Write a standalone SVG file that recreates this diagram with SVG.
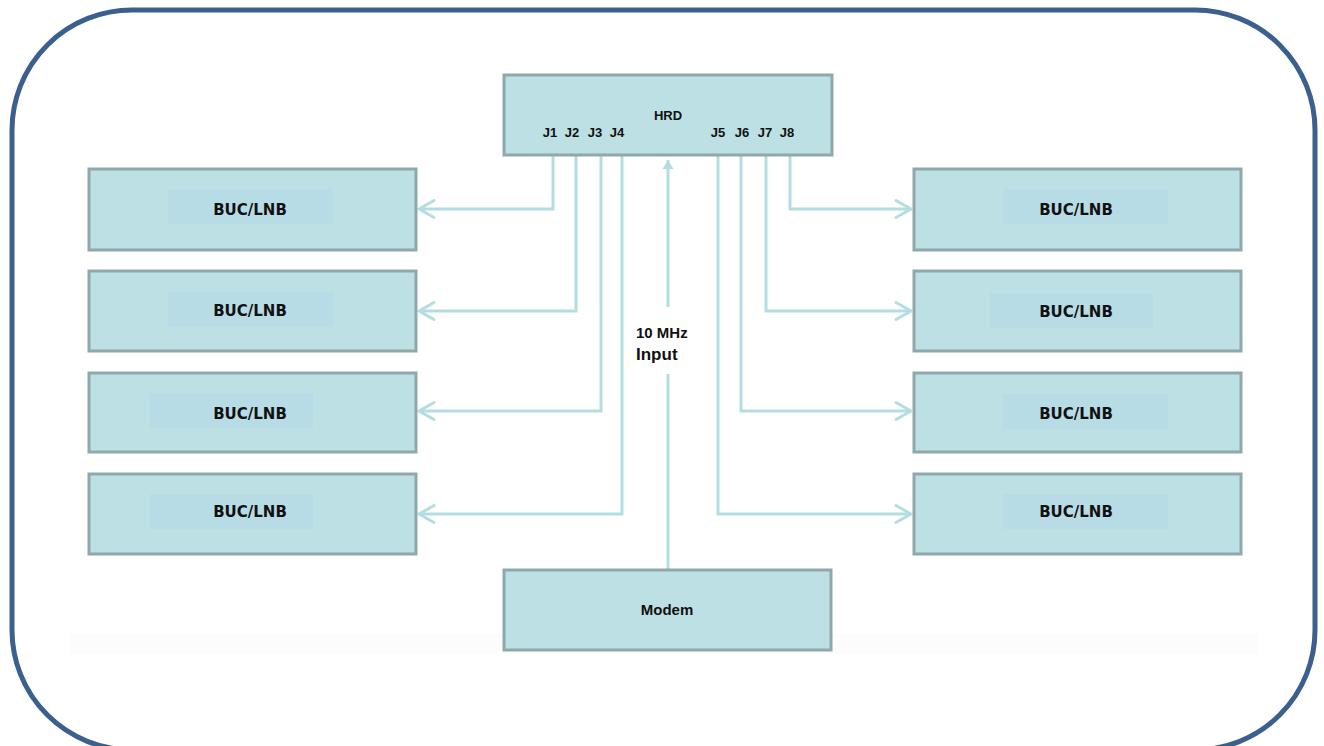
<svg xmlns="http://www.w3.org/2000/svg" width="1324" height="746" viewBox="0 0 1324 746">
<style>
.box{fill:#bce0e3;stroke:#8fa8a9;stroke-width:3}
.inner{fill:#b8dce6}
.lbl{font-family:"DejaVu Sans",Verdana,sans-serif;font-weight:bold;font-size:15px;fill:#111;text-anchor:middle}
.sm{font-family:"Liberation Sans",Arial,sans-serif;font-weight:bold;fill:#111}
.conn{fill:none;stroke:#b3dde0;stroke-width:3}
</style>
<defs>
<marker id="arr" markerUnits="userSpaceOnUse" markerWidth="24" markerHeight="24" viewBox="-20 -12 24 24" refX="0" refY="0" orient="auto" overflow="visible">
<path d="M-15,-8.5 L0,0 L-15,8.5" fill="none" stroke="#b3dde0" stroke-width="3" stroke-linecap="round" stroke-linejoin="round"/>
</marker>
<marker id="arrf" markerUnits="userSpaceOnUse" markerWidth="16" markerHeight="16" viewBox="-12 -8 16 16" refX="0" refY="0" orient="auto" overflow="visible">
<path d="M-9,-5.5 L0,0 L-9,5.5 Z" fill="#b3dde0"/>
</marker>
</defs>
<rect x="0" y="0" width="1324" height="746" fill="#fff"/>
<rect x="70" y="634" width="1188" height="20" fill="#fcfcfc"/>
<rect x="12" y="10" width="1303" height="740" rx="120" ry="120" fill="none" stroke="#3b5f8e" stroke-width="5"/>

<g id="connectors">
<path class="conn" d="M553,156 V209 H419" marker-end="url(#arr)"/>
<path class="conn" d="M576,156 V311 H419" marker-end="url(#arr)"/>
<path class="conn" d="M601,156 V411 H419" marker-end="url(#arr)"/>
<path class="conn" d="M622,156 V514 H419" marker-end="url(#arr)"/>
<path class="conn" d="M718,156 V514 H911" marker-end="url(#arr)"/>
<path class="conn" d="M741,156 V411 H911" marker-end="url(#arr)"/>
<path class="conn" d="M766,156 V311 H911" marker-end="url(#arr)"/>
<path class="conn" d="M790,156 V209 H911" marker-end="url(#arr)"/>
<path class="conn" d="M668,569 V374"/>
<path class="conn" d="M668,307 V160" marker-end="url(#arrf)"/>
</g>
<text class="sm" x="636" y="338" font-size="15">10 MHz</text>
<text class="sm" x="636" y="360" font-size="17">Input</text>

<g id="hrd">
<rect class="box" x="504" y="75" width="328" height="80"/>
<text class="sm" x="668" y="120" font-size="13" text-anchor="middle">HRD</text>
<text class="sm" x="550" y="137" font-size="13" text-anchor="middle">J1</text>
<text class="sm" x="572" y="137" font-size="13" text-anchor="middle">J2</text>
<text class="sm" x="595" y="137" font-size="13" text-anchor="middle">J3</text>
<text class="sm" x="617" y="137" font-size="13" text-anchor="middle">J4</text>
<text class="sm" x="718" y="137" font-size="13" text-anchor="middle">J5</text>
<text class="sm" x="742" y="137" font-size="13" text-anchor="middle">J6</text>
<text class="sm" x="765" y="137" font-size="13" text-anchor="middle">J7</text>
<text class="sm" x="787" y="137" font-size="13" text-anchor="middle">J8</text>
</g>

<g id="modem">
<rect class="box" x="504" y="570" width="327" height="80"/>
<text class="sm" x="667" y="615" font-size="15" text-anchor="middle">Modem</text>
</g>

<g id="buc-l1">
<rect class="box" x="89" y="169" width="327" height="81"/>
<rect class="inner" x="168" y="189" width="165" height="35"/>
<text class="lbl" x="250" y="215">BUC/LNB</text>
</g>
<g id="buc-l2">
<rect class="box" x="89" y="271" width="327" height="80"/>
<rect class="inner" x="168" y="292" width="165" height="35"/>
<text class="lbl" x="250" y="316">BUC/LNB</text>
</g>
<g id="buc-l3">
<rect class="box" x="89" y="373" width="327" height="79"/>
<rect class="inner" x="150" y="393" width="163" height="35"/>
<text class="lbl" x="250" y="419">BUC/LNB</text>
</g>
<g id="buc-l4">
<rect class="box" x="89" y="474" width="327" height="80"/>
<rect class="inner" x="150" y="494" width="163" height="35"/>
<text class="lbl" x="250" y="517">BUC/LNB</text>
</g>

<g id="buc-r1">
<rect class="box" x="914" y="169" width="327" height="81"/>
<rect class="inner" x="1003" y="189" width="165" height="35"/>
<text class="lbl" x="1076" y="215">BUC/LNB</text>
</g>
<g id="buc-r2">
<rect class="box" x="914" y="271" width="327" height="80"/>
<rect class="inner" x="990" y="293" width="163" height="35"/>
<text class="lbl" x="1076" y="317">BUC/LNB</text>
</g>
<g id="buc-r3">
<rect class="box" x="914" y="373" width="327" height="79"/>
<rect class="inner" x="1003" y="394" width="165" height="35"/>
<text class="lbl" x="1076" y="419">BUC/LNB</text>
</g>
<g id="buc-r4">
<rect class="box" x="914" y="474" width="327" height="80"/>
<rect class="inner" x="1003" y="494" width="165" height="35"/>
<text class="lbl" x="1076" y="517">BUC/LNB</text>
</g>
</svg>
